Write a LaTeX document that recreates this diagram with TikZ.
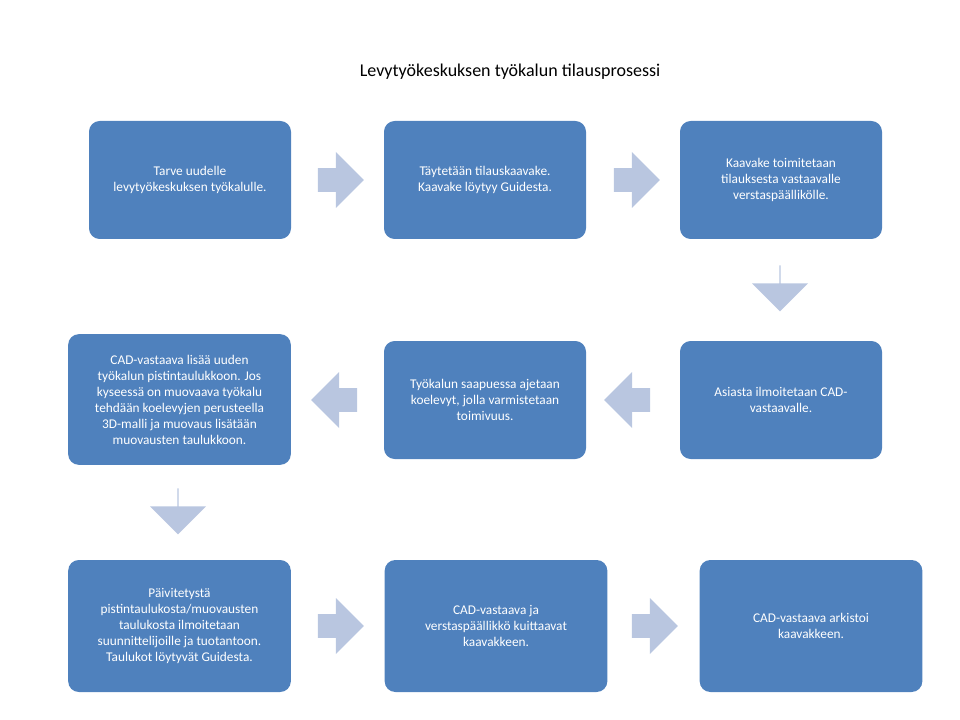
\documentclass[tikz,border=0pt]{standalone}
\usepackage{fontspec}
\setmainfont{Carlito}
\usetikzlibrary{shapes.arrows}
\definecolor{boxblue}{HTML}{4F81BD}
\definecolor{arrowblue}{HTML}{B9C6E0}
\tikzset{
  stepbox/.style={fill=boxblue, rounded corners=8pt, text=white, align=center,
    font=\fontsize{10}{12}\selectfont, inner sep=0pt},
  flowarrow/.style={single arrow, fill=arrowblue, inner sep=0pt, minimum height=46*0.75pt,
    single arrow head extend=7.5pt, text width=0pt, text height=10.5pt, minimum width=42pt}
}
\begin{document}
\begin{tikzpicture}[x=0.75pt,y=-0.75pt]
  \useasboundingbox (0,0) rectangle (960,720);
  \node (title) at (510,72) {\fontsize{13.5}{16}\selectfont Levytyökeskuksen työkalun tilausprosessi};

  % first row
  \node[stepbox, minimum width=151.5pt, minimum height=88.5pt] (need) at (190,180) {Tarve uudelle\\levytyökeskuksen työkalulle.};
  \node[stepbox, minimum width=151.5pt, minimum height=88.5pt] (form) at (485,180) {Täytetään tilauskaavake.\\Kaavake löytyy Guidesta.};
  \node[stepbox, minimum width=151.5pt, minimum height=88.5pt] (send) at (781,180) {Kaavake toimitetaan\\tilauksesta vastaavalle\\verstaspäällikölle.};

  % second row
  \node[stepbox, minimum width=151.5pt, minimum height=88.5pt] (inform) at (781,400) {Asiasta ilmoitetaan CAD-\\vastaavalle.};
  \node[stepbox, minimum width=151.5pt, minimum height=88.5pt] (test) at (485,400) {Työkalun saapuessa ajetaan\\koelevyt, jolla varmistetaan\\toimivuus.};
  \node[stepbox, minimum width=167pt, minimum height=98pt] (table) at (179.5,399.5) {CAD-vastaava lisää uuden\\työkalun pistintaulukkoon. Jos\\kyseessä on muovaava työkalu\\tehdään koelevyjen perusteella\\3D-malli ja muovaus lisätään\\muovausten taulukkoon.};

  % third row
  \node[stepbox, minimum width=167pt, minimum height=99pt] (update) at (179.5,626) {Päivitetystä\\pistintaulukosta/muovausten\\taulukosta ilmoitetaan\\suunnittelijoille ja tuotantoon.\\Taulukot löytyvät Guidesta.};
  \node[stepbox, minimum width=167pt, minimum height=99pt] (ack) at (496,626) {CAD-vastaava ja\\verstaspäällikkö kuittaavat\\kaavakkeen.};
  \node[stepbox, minimum width=167pt, minimum height=99pt] (archive) at (811,626) {CAD-vastaava arkistoi\\kaavakkeen.};

  % arrows
  \node[flowarrow] (a1) at (335,180) {};
  \node[flowarrow] (a2) at (631,180) {};
  \node[flowarrow, shape border rotate=270] (a3) at (780,288) {};
  \node[flowarrow, shape border rotate=180] (a4) at (633,400) {};
  \node[flowarrow, shape border rotate=180] (a5) at (340,400) {};
  \node[flowarrow, shape border rotate=270] (a6) at (178,511) {};
  \node[flowarrow] (a7) at (335,626) {};
  \node[flowarrow] (a8) at (649,626) {};
\end{tikzpicture}
\end{document}
